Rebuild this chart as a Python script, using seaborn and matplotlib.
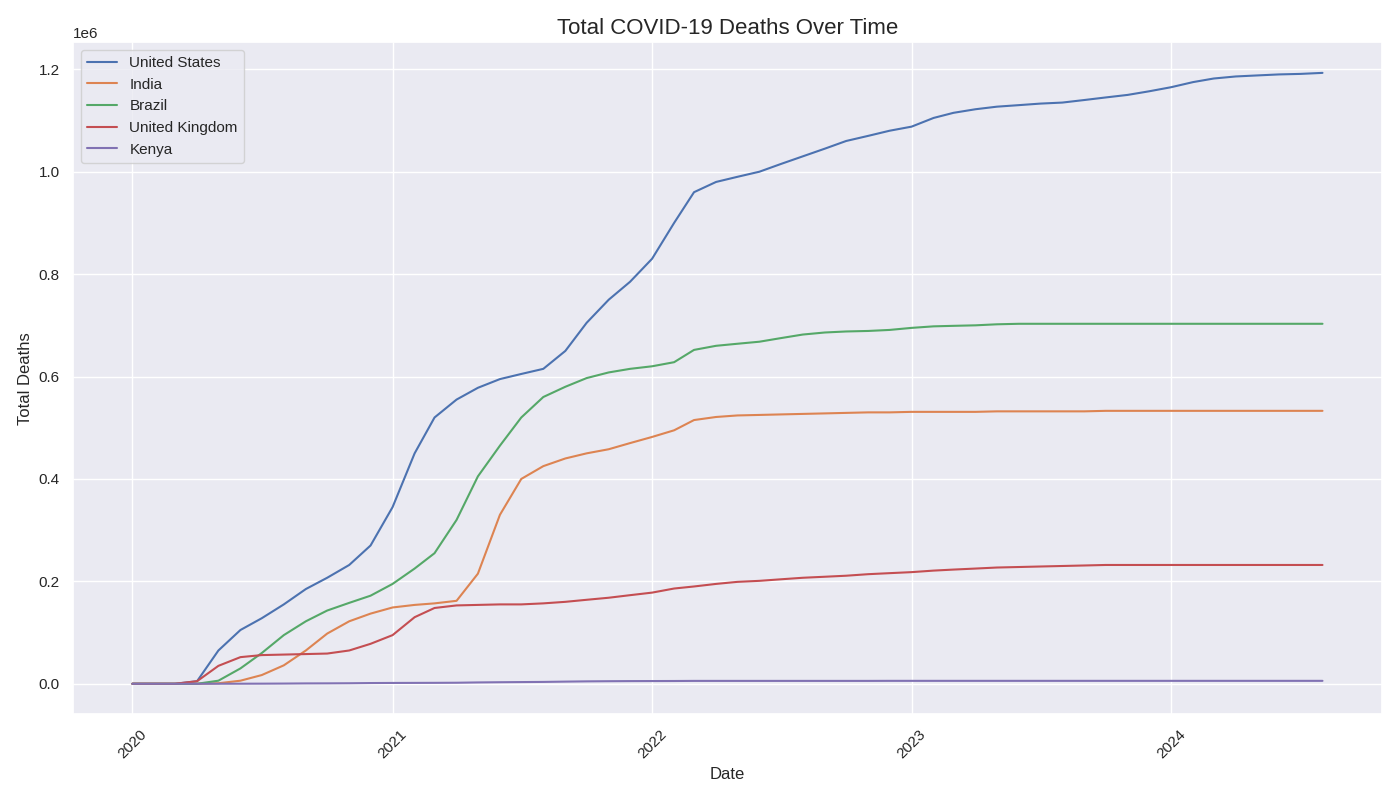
import pandas as pd
import matplotlib.pyplot as plt
import seaborn as sns

# monthly cumulative deaths (thousands), Jan 2020 - Aug 2024
dates = pd.date_range('2020-01-01', '2024-08-01', freq='MS')

us = ([0, 0, 0, 5, 65, 105, 128, 155, 185, 207, 232, 270] +
      [345, 450, 520, 555, 578, 595, 605, 615, 650, 705, 750, 785] +
      [830, 900, 960, 980, 990, 1000, 1015, 1030, 1045, 1060, 1070, 1080] +
      [1088, 1105, 1115, 1122, 1127, 1130, 1133, 1135, 1140, 1145, 1150, 1157] +
      [1165, 1175, 1182, 1186, 1188, 1190, 1191, 1193])
india = ([0, 0, 0, 0, 1, 6, 17, 36, 65, 98, 122, 137] +
         [149, 154, 157, 162, 215, 330, 400, 425, 440, 450, 458, 470] +
         [482, 495, 515, 521, 524, 525, 526, 527, 528, 529, 530, 530] +
         [531, 531, 531, 531, 532, 532, 532, 532, 532, 533, 533, 533] +
         [533, 533, 533, 533, 533, 533, 533, 533])
brazil = ([0, 0, 0, 0, 6, 30, 60, 95, 122, 143, 158, 172] +
          [195, 225, 255, 320, 405, 465, 520, 560, 580, 597, 608, 615] +
          [620, 628, 652, 660, 664, 668, 675, 682, 686, 688, 689, 691] +
          [695, 698, 699, 700, 702, 703, 703, 703, 703, 703, 703, 703] +
          [703, 703, 703, 703, 703, 703, 703, 703])
uk = ([0, 0, 0, 5, 35, 52, 56, 57, 58, 59, 65, 78] +
      [95, 130, 148, 153, 154, 155, 155, 157, 160, 164, 168, 173] +
      [178, 186, 190, 195, 199, 201, 204, 207, 209, 211, 214, 216] +
      [218, 221, 223, 225, 227, 228, 229, 230, 231, 232, 232, 232] +
      [232, 232, 232, 232, 232, 232, 232, 232])
kenya = ([0, 0, 0, 0, 0.05, 0.1, 0.2, 0.4, 0.7, 0.8, 1.0, 1.4] +
         [1.6, 1.7, 1.8, 2.0, 2.6, 3.0, 3.3, 3.6, 4.2, 4.7, 5.0, 5.2] +
         [5.3, 5.4, 5.6, 5.6, 5.6, 5.6, 5.6, 5.6, 5.6, 5.6, 5.6, 5.7] +
         [5.7] * 12 +
         [5.7] * 8)

countries = ['United States', 'India', 'Brazil', 'United Kingdom', 'Kenya']
series = [us, india, brazil, uk, kenya]

rows = []
for name, vals in zip(countries, series):
    for d, v in zip(dates, vals):
        rows.append({'date': d, 'location': name, 'total_deaths': v * 1000})
df = pd.DataFrame(rows)

sns.set_theme(style='darkgrid')
plt.rcParams['font.family'] = ['Liberation Sans', 'DejaVu Sans']
plt.figure(figsize=(14, 8))
sns.lineplot(data=df, x='date', y='total_deaths', hue='location',
             hue_order=countries)
plt.title('Total COVID-19 Deaths Over Time', fontsize=16)
plt.xlabel('Date')
plt.ylabel('Total Deaths')
plt.xticks(rotation=45)
plt.legend(loc='upper left')
plt.tight_layout()
plt.savefig('out.png', dpi=100)
